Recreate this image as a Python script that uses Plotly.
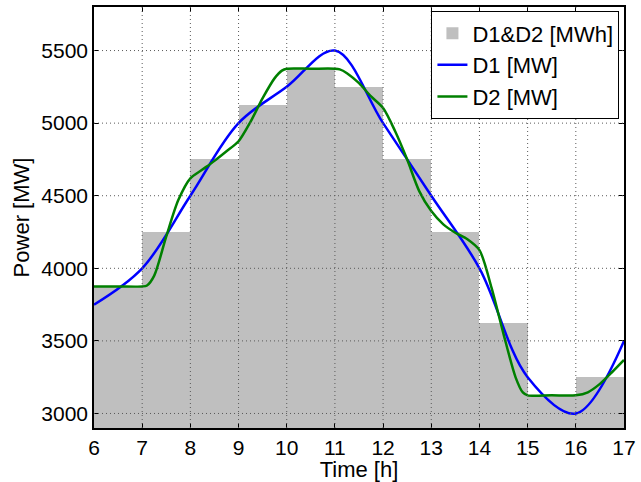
import plotly.graph_objects as go

# Hourly energy blocks (start hour of each block)
hour_start = [6, 7, 8, 9, 10, 11, 12, 13, 14, 15, 16]
energy_mwh = [3875, 4250, 4750, 5125, 5375, 5250, 4750, 4250, 3625, 3125, 3250]

# D1 power at whole hours
d1_time = [6, 7, 8, 9, 10, 11, 12, 13, 14, 15, 16, 17]
d1_mw = [3750, 4000, 4500, 5000, 5250, 5500, 5000, 4500, 4000, 3250, 3000, 3500]

# D2 power
d2_time = [6, 6.5, 7, 7.1, 7.25, 7.5, 7.75, 8, 8.25, 8.5, 8.75, 9, 9.25, 9.5,
           9.75, 9.9, 10, 10.5, 11, 11.1, 11.25, 11.5, 11.75, 12, 12.25, 12.5,
           12.75, 13, 13.25, 13.5, 13.75, 14, 14.25, 14.5, 14.75, 14.9, 15,
           15.5, 16, 16.25, 16.5, 16.75, 17]
d2_mw = [3875, 3875, 3875, 3882, 3950, 4220, 4470, 4620, 4680, 4740, 4806,
         4875, 5010, 5172, 5310, 5362, 5375, 5375, 5375, 5370, 5344, 5275,
         5184, 5104, 4944, 4749, 4532, 4394, 4303, 4245, 4200, 4125, 3867,
         3547, 3249, 3145, 3125, 3125, 3125, 3146, 3204, 3284, 3369]

x_ticks = list(range(6, 18))
y_ticks = [3000, 3500, 4000, 4500, 5000, 5500]
x_range = [6, 17]
y_range = [2900, 5800]

FONT = "Liberation Sans, Arial, Helvetica, sans-serif"

fig = go.Figure()
fig.add_trace(go.Bar(
    x=hour_start, y=energy_mwh, width=1, offset=0,
    marker=dict(color="#bfbfbf", line=dict(width=0)),
    name="D1&D2 [MWh]",
))
fig.add_trace(go.Scatter(
    x=d1_time, y=d1_mw, mode="lines", name="D1 [MW]",
    line=dict(color="#0000ff", width=2.5, shape="spline", smoothing=1.0),
))
fig.add_trace(go.Scatter(
    x=d2_time, y=d2_mw, mode="lines", name="D2 [MW]",
    line=dict(color="#008000", width=2.5, shape="spline", smoothing=0.8),
))

# dotted grid on top (MATLAB axes layer 'top')
grid_style = dict(color="rgb(90,90,90)", width=1, dash="1px,3px")
shapes = []
for xv in x_ticks[1:-1]:
    shapes.append(dict(type="line", xref="x", yref="paper", x0=xv, x1=xv,
                       y0=0, y1=1, line=grid_style, layer="above"))
for yv in y_ticks:
    shapes.append(dict(type="line", xref="paper", yref="y", x0=0, x1=1,
                       y0=yv, y1=yv, line=grid_style, layer="above"))

fig.update_layout(
    width=641, height=482,
    margin=dict(l=94, r=12, t=5, b=54),
    paper_bgcolor="white", plot_bgcolor="white",
    font=dict(family=FONT, size=21, color="black"),
    bargap=0,
    shapes=shapes,
    showlegend=True,
    legend=dict(
        x=0.991, y=0.99, xanchor="right", yanchor="top",
        bgcolor="white", bordercolor="black", borderwidth=1.2,
        font=dict(family=FONT, size=22, color="black"),
        itemwidth=30, tracegroupgap=0,
    ),
    xaxis=dict(
        range=x_range, tickmode="array", tickvals=x_ticks,
        ticks="inside", ticklen=5, tickcolor="black", tickwidth=1,
        showline=True, linecolor="black", linewidth=1.5, mirror="ticks",
        showgrid=False, zeroline=False, layer="above traces",
        title=dict(text="Time [h]", font=dict(size=22), standoff=2),
        tickfont=dict(size=21),
    ),
    yaxis=dict(
        range=y_range, tickmode="array", tickvals=y_ticks,
        ticks="inside", ticklen=5, tickcolor="black", tickwidth=1,
        showline=True, linecolor="black", linewidth=1.5, mirror="ticks",
        showgrid=False, zeroline=False, layer="above traces",
        title=dict(text="Power [MW]", font=dict(size=22), standoff=6),
        tickfont=dict(size=21),
    ),
)

fig.write_html("out.html")
